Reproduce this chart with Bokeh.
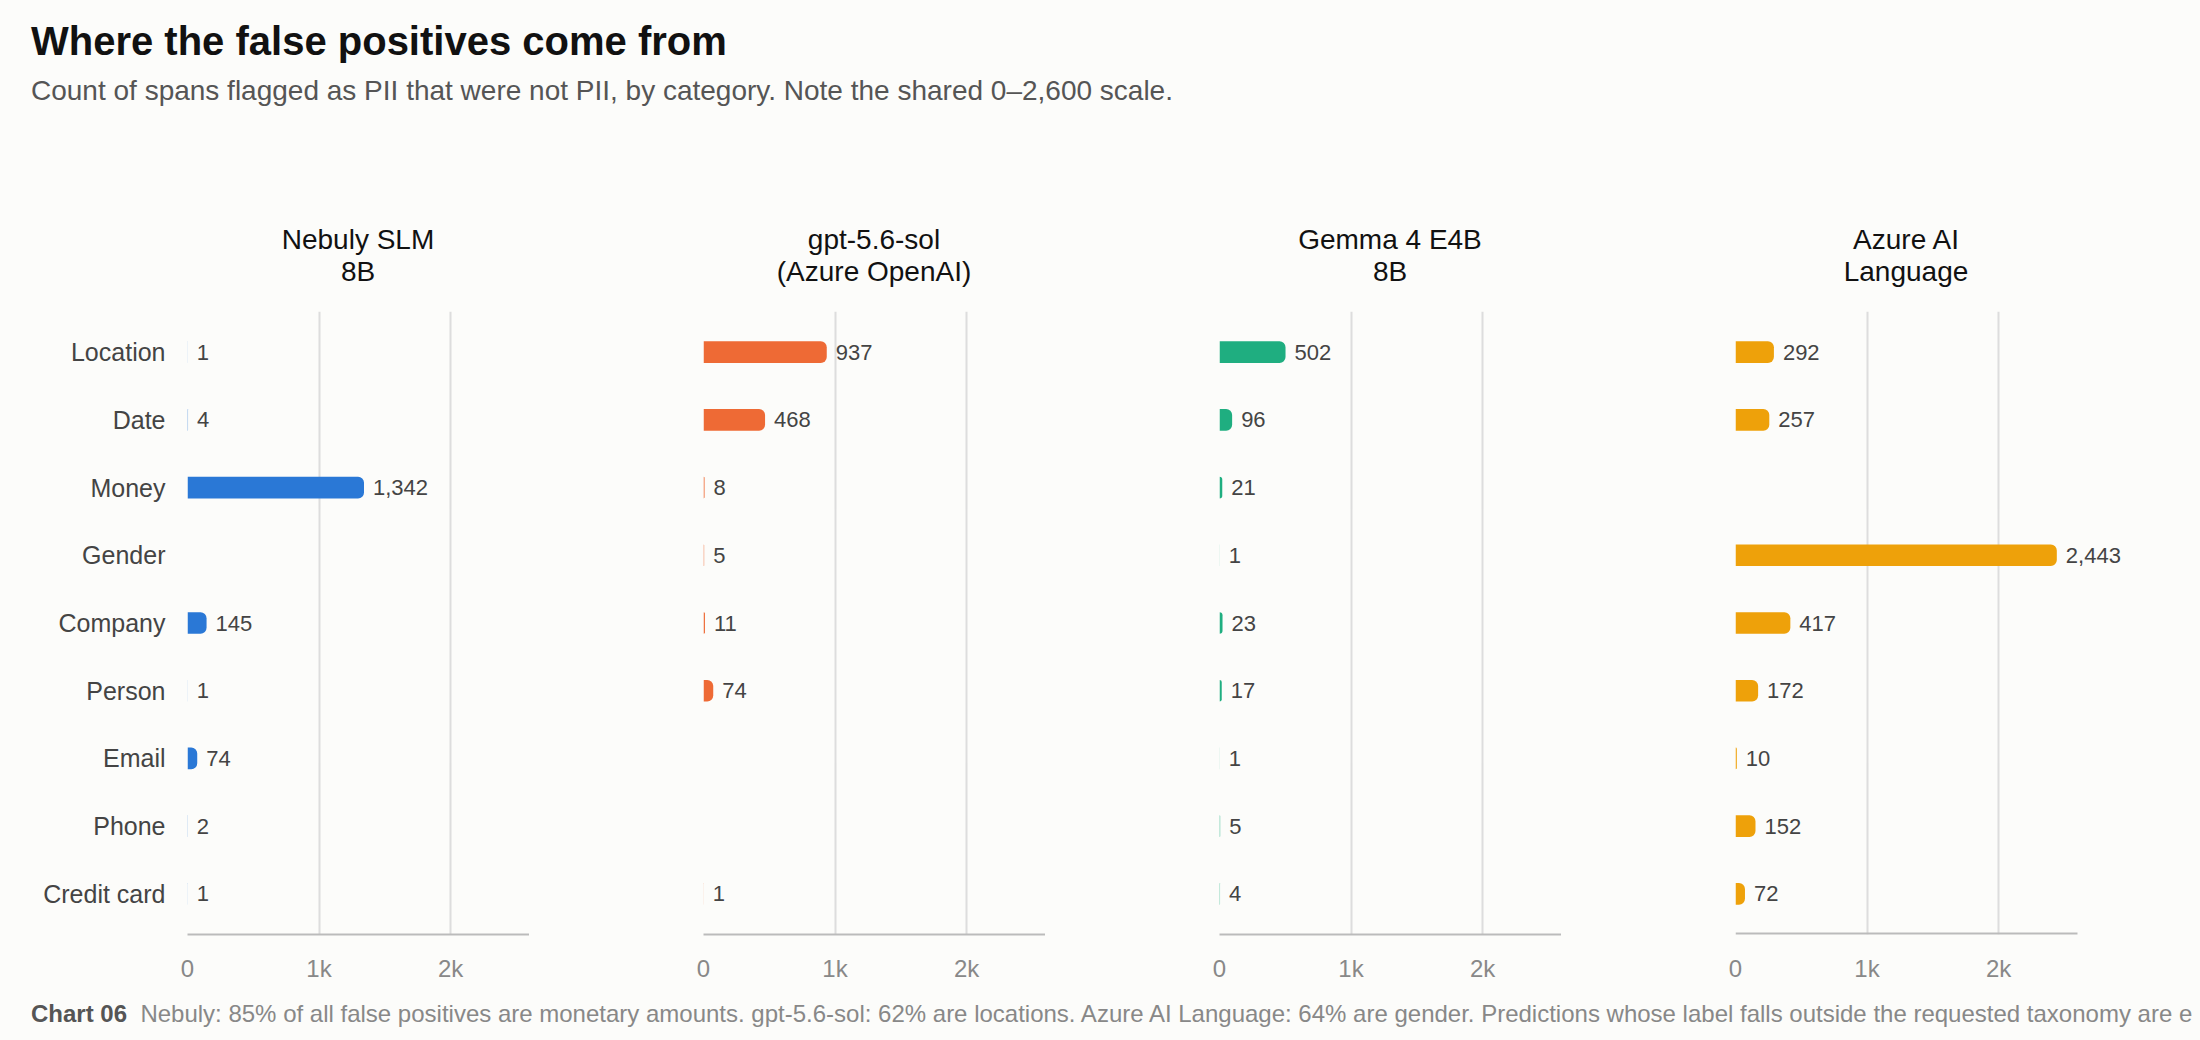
from bokeh.plotting import figure
from bokeh.models import Range1d, ColumnDataSource, LabelSet, Div, FixedTicker
from bokeh.layouts import column, row
from bokeh.core.properties import value
from bokeh.embed import file_html
from bokeh.resources import INLINE

categories = ["Location", "Date", "Money", "Gender", "Company", "Person", "Email", "Phone", "Credit card"]
panel_titles = [("Nebuly SLM", "8B"), ("gpt-5.6-sol", "(Azure OpenAI)"), ("Gemma 4 E4B", "8B"), ("Azure AI", "Language")]
nebuly = [1, 4, 1342, None, 145, 1, 74, 2, 1]
gpt = [937, 468, 8, 5, 11, 74, None, None, 1]
gemma = [502, 96, 21, 1, 23, 17, 1, 5, 4]
azure = [292, 257, None, 2443, 417, 172, 10, 152, 72]
series = [nebuly, gpt, gemma, azure]
colors = ["#2a78d6", "#ee6a35", "#1fae80", "#eea10a"]
x_ticks = [0, 1000, 2000]
x_tick_labels = {0: "0", 1000: "1k", 2000: "2k"}
scale_max = 2600

BG = "#fcfcfa"
FONT = "Liberation Sans"

figs = []
for i, (vals, col) in enumerate(zip(series, colors)):
    last = i == 3
    left = 179 if i == 0 else 174
    xmax = 2950 if last else scale_max
    frame_w = round(342 * xmax / scale_max)
    w = left + frame_w
    p = figure(width=w, height=676, x_range=Range1d(0, xmax), y_range=Range1d(8.6, -0.6),
               output_backend="svg", toolbar_location=None, min_border_left=left,
               min_border_right=0, min_border_top=3, min_border_bottom=0,
               background_fill_color=BG, border_fill_color=BG, outline_line_color=None)
    ys = [j for j, v in enumerate(vals) if v is not None]
    xs = [v for v in vals if v is not None]
    labels = [f"{v:,}" for v in xs]
    src = ColumnDataSource(dict(y=ys, x=xs, lab=labels))
    p.hbar(y="y", right="x", left=0, height=0.32, source=src, color=col, line_color=None,
           border_radius=[0, 6, 6, 0])
    p.add_layout(LabelSet(x="x", y="y", text="lab", source=src, x_offset=9, y_offset=0,
                          text_baseline="middle", text_font=value(FONT), text_font_size="22px",
                          text_color="#444444"))
    p.xaxis.ticker = FixedTicker(ticks=x_ticks)
    p.xaxis.major_label_overrides = x_tick_labels
    p.xaxis.major_label_text_font = FONT
    p.xaxis.major_label_text_font_size = "24px"
    p.xaxis.major_label_text_color = "#888888"
    p.xaxis.axis_line_color = None if last else "#bbbbbb"
    p.xaxis.axis_line_width = 2
    p.xaxis.major_tick_line_color = None
    p.xaxis.minor_tick_line_color = None
    p.xaxis.major_label_standoff = 14
    if last:
        p.segment(x0=[0], x1=[scale_max], y0=[8.6], y1=[8.6], line_color="#bbbbbb", line_width=4)
    p.yaxis.ticker = FixedTicker(ticks=list(range(len(categories))))
    p.yaxis.major_label_overrides = {j: c for j, c in enumerate(categories)}
    p.yaxis.major_label_text_font = FONT
    p.yaxis.major_label_text_font_size = "25px"
    p.yaxis.major_label_text_color = "#444444"
    p.yaxis.axis_line_color = None
    p.yaxis.major_tick_line_color = None
    p.yaxis.minor_tick_line_color = None
    p.yaxis.major_label_standoff = 16
    if i > 0:
        p.yaxis.major_label_text_color = None
    p.ygrid.grid_line_color = None
    p.xgrid.grid_line_color = "#dddddd"
    p.xgrid.grid_line_width = 2
    figs.append(p)

centers = [358 - 8 + k * 516 for k in range(4)]
ptitles = "".join(
    f"<div style='position:absolute;left:{c - 200}px;top:216px;width:400px;text-align:center;"
    f"font-size:28px;line-height:32px;color:#111;'>{a}<br>{b}</div>"
    for c, (a, b) in zip(centers, panel_titles))
head = Div(text=(
    f"<div style='position:relative;font-family:{FONT};background:{BG};width:2184px;height:300px;'>"
    "<div style='position:absolute;left:23px;top:5px;font-size:40px;font-weight:bold;color:#111;'>Where the false positives come from</div>"
    "<div style='position:absolute;left:23px;top:63px;font-size:28px;color:#555;'>Count of spans flagged as PII that were not PII, by category. Note the shared 0–2,600 scale.</div>"
    + ptitles + "</div>"), width=2184, height=300, styles={"margin": "0"})
foot = Div(text=(
    f"<div style='font-family:{FONT};background:{BG};width:2184px;height:60px;white-space:nowrap;overflow:hidden;padding-left:23px;box-sizing:border-box;font-size:24px;color:#888;line-height:60px;'>"
    "<b style='color:#555'>Chart 06</b>&nbsp; Nebuly: 85% of all false positives are monetary amounts. gpt-5.6-sol: 62% are locations. Azure AI Language: 64% are gender. Predictions whose label falls outside the requested taxonomy are excluded."
    "</div>"), width=2184, height=60, styles={"margin": "0"})

layout = column(head, row(*figs, styles={"background": BG}), foot, styles={"background": BG})
html = file_html(layout, INLINE)
html = html.replace("<body>", f"<body style='background:{BG};margin:8px;'>")
open("out.html", "w").write(html)
